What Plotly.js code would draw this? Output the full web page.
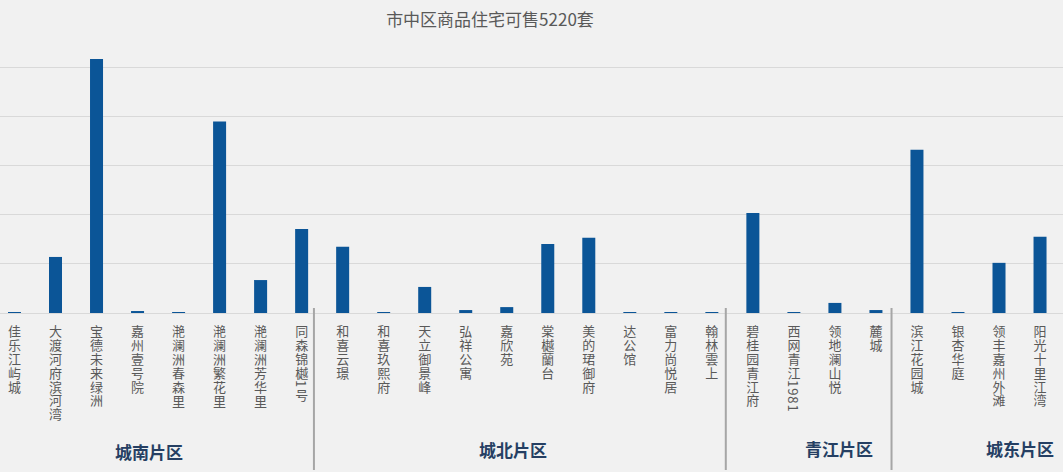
<!DOCTYPE html>
<html>
<head>
<meta charset="utf-8">
<script src="https://cdn.plot.ly/plotly-3.0.1.min.js"></script>
<style>
  html, body { margin: 0; padding: 0; background: #f1f1f1; }
  #chart { width: 1063px; height: 472px; }
</style>
</head>
<body>
<div id="chart"></div>
<script>
// ---- data ----
const projects = [
  "佳乐江屿城", "大渡河府滨河湾", "宝德未来绿洲", "嘉州壹号院", "滟澜洲春森里", "滟澜洲繁花里", "滟澜洲芳华里", "同森锦樾1号",
  "和喜云璟", "和喜玖熙府", "天立御景峰", "弘祥公寓", "嘉欣苑", "棠樾蘭台", "美的珺御府", "达公馆", "富力尚悦居", "翰林雲上",
  "碧桂园青江府", "西网青江1981", "领地澜山悦", "麓城",
  "滨江花园城", "银杏华庭", "领丰嘉州外滩", "阳光十里江湾"
];
const available = [
  4, 228, 1033, 8, 4, 779, 134, 342,
  269, 4, 106, 12, 24, 281, 306, 4, 4, 4,
  407, 4, 41, 12,
  664, 4, 204, 310
];
const groupNames = ["城南片区", "城北片区", "青江片区", "城东片区"];
const groupSizes = [8, 10, 4, 4];
const chartTitle = "市中区商品住宅可售5220套";

// ---- layout helpers ----
const W = 1063, H = 472, MT = 18, MB = 159;
const plotH = H - MT - MB;
const baseY = H - MB;            // pixel y of value 0
const labelColor = "#595959";
const cjkFont = "'Noto Sans CJK SC', 'Noto Sans', sans-serif";
const labelSize = 13;
const labelTop = 324.5;          // pixel y where each vertical label starts
const letterGap = 0.9;           // extra spacing between stacked characters

const annotations = [];
// category labels: one annotation each, later set in vertical writing mode
projects.forEach((name, i) => {
  annotations.push({
    x: i, xref: "x", y: 0, yref: "paper", yanchor: "top", xanchor: "center",
    yshift: -(labelTop - baseY), text: name, showarrow: false,
    font: { family: cjkFont, size: labelSize, color: labelColor }
  });
});

// group labels and separators
const groupLabelShift = [-0.22, -0.35, 0.6, 1.0];
const groupLabelY = [451, 449, 448, 448];
const shapes = [];
let start = 0;
groupSizes.forEach((n, g) => {
  const end = start + n - 1;
  annotations.push({
    x: (start + end) / 2 + groupLabelShift[g], xref: "x", y: 0, yref: "paper",
    yanchor: "middle", xanchor: "center", yshift: -(groupLabelY[g] - baseY),
    text: "<b>" + groupNames[g] + "</b>", showarrow: false,
    font: { family: cjkFont, size: 17, color: "#253f63" }
  });
  if (g < groupSizes.length - 1) {
    const sx = end + 0.3 + 0.04 * g;
    shapes.push({
      type: "line", xref: "x", yref: "paper", x0: sx, x1: sx,
      y0: (baseY - 308) / plotH, y1: (baseY - 470) / plotH,
      line: { color: "#a6a6a6", width: 2 }, layer: "above"
    });
  }
  start += n;
});

// background patch behind the title (covers the top gridline)
shapes.push({
  type: "rect", xref: "paper", yref: "paper", layer: "below",
  x0: 380 / W, x1: 600 / W, y0: (baseY - 28) / plotH, y1: (baseY - 11) / plotH,
  fillcolor: "#f1f1f1", line: { width: 0 }
});

const trace = {
  type: "bar",
  x: projects.map((_, i) => i),
  y: available,
  width: 0.317,
  marker: { color: "#0b5597", line: { width: 0 } },
  hoverinfo: "none"
};

const layout = {
  width: W, height: H,
  margin: { l: 0, r: 0, t: MT, b: MB, pad: 0 },
  paper_bgcolor: "#f1f1f1",
  plot_bgcolor: "#f1f1f1",
  showlegend: false,
  title: {
    text: chartTitle, x: 490 / W, xanchor: "center", xref: "paper",
    y: 1 - 20 / H, yanchor: "middle", yref: "container",
    font: { family: cjkFont, size: 17, color: labelColor }
  },
  xaxis: {
    type: "linear", range: [-0.353, 25.56], showticklabels: false,
    showgrid: false, zeroline: false, showline: false, ticks: "", fixedrange: true
  },
  yaxis: {
    range: [0, 1200], dtick: 200, showticklabels: false, ticks: "",
    showgrid: true, gridcolor: "#d9d9d9", gridwidth: 1,
    zeroline: true, zerolinecolor: "#d9d9d9", zerolinewidth: 1,
    showline: false, fixedrange: true
  },
  annotations: annotations,
  shapes: shapes
};

const gd = document.getElementById("chart");
Plotly.newPlot(gd, [trace], layout, { displayModeBar: false, staticPlot: true }).then(() => {
  const fl = gd._fullLayout;
  const host = gd.getBoundingClientRect();
  projects.forEach((_, k) => {
    const t = gd.querySelector('.annotation[data-index="' + k + '"] text.annotation-text');
    if (!t) return;
    // stack the characters vertically (Latin digits turn sideways, as in the original)
    t.style.writingMode = "vertical-rl";
    t.style.letterSpacing = letterGap + "px";
    t.setAttribute("text-anchor", "start");
    const r = t.getBoundingClientRect();
    const cx = fl._size.l + fl.xaxis.l2p(k);
    const dx = cx - (r.left - host.left + r.width / 2);
    const dy = labelTop - (r.top - host.top);
    const prev = t.getAttribute("transform") || "";
    t.setAttribute("transform", prev + " translate(" + dx.toFixed(2) + "," + dy.toFixed(2) + ")");
  });
});
</script>
</body>
</html>
